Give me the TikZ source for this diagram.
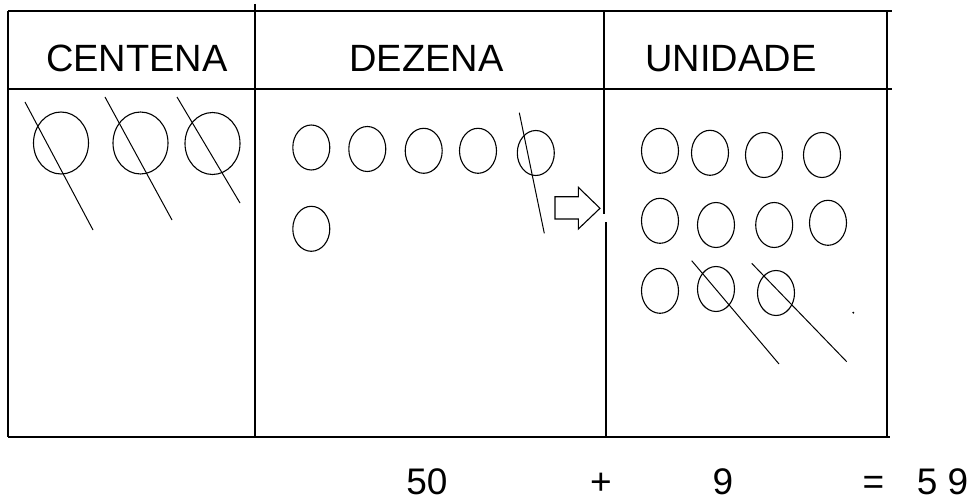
\documentclass[tikz,border=0pt]{standalone}
\usepackage{fontspec}
\setmainfont{Liberation Sans}
\usepackage{tikz}
\usetikzlibrary{shapes.geometric}
\tikzset{
  frame/.style={draw=black,line width=1.6pt},
  header/.style={
    anchor=base,inner sep=0pt,
    font=\fontsize{38}{40}\selectfont
  },
  bead/.style={
    draw=black,ellipse,line width=1.1pt,inner sep=0pt,
    minimum width=37pt,minimum height=45pt
  },
  bigbead/.style={bead,minimum width=55pt,minimum height=62pt},
  cross/.style={draw=black,line width=1pt},
  sumtext/.style={
    anchor=base,inner sep=0pt,
    font=\fontsize{37}{38}\selectfont
  },
  movearrow/.style={draw=black,line width=1.1pt,line join=miter}
}
\begin{document}
\begin{tikzpicture}[x=1pt,y=-1pt]
\useasboundingbox (0,0) rectangle (972,500);

\draw[frame] (8,11) -- (892,11);
\draw[frame] (8,89) -- (892,89);
\draw[frame] (8,437) -- (890,437);
\draw[frame] (8,11) -- (8,437);
\draw[frame] (887,11) -- (887,437);
\draw[frame] (255,4) -- (255,437);
\draw[frame] (604,11) -- (604,214);
\draw[frame] (606,222) -- (606,437);

\node[header] (centena) at (137,72) {CENTENA};
\node[header] (dezena) at (426.5,72) {DEZENA};
\node[header] (unidade) at (731,72) {UNIDADE};

\node[bigbead] (c1) at (61,143) {};
\node[bigbead] (c2) at (140.5,143) {};
\node[bigbead] (c3) at (212.5,143.5) {};
\draw[cross] (25,102) -- (93,230);
\draw[cross] (105,97) -- (172,220);
\draw[cross] (177,97) -- (240,203);

\node[bead] (d1) at (311.3,147.5) {};
\node[bead] (d2) at (367.3,149) {};
\node[bead] (d3) at (423.7,150.8) {};
\node[bead] (d4) at (478,150.8) {};
\node[bead] (d5) at (535.8,153) {};
\node[bead] (d6) at (311.3,228.8) {};
\draw[cross] (519.3,112.7) -- (544.3,233.3);

\draw[movearrow] (555,196.7) -- (578.3,196.7) -- (578.3,187.3)
  -- (600,208.3) -- (578.3,229) -- (578.3,219) -- (555,219) -- cycle;

\node[bead] (u1) at (660,150.8) {};
\node[bead] (u2) at (710,152.8) {};
\node[bead] (u3) at (764,155) {};
\node[bead] (u4) at (822,155) {};
\node[bead] (u5) at (660,220.8) {};
\node[bead] (u6) at (716,225) {};
\node[bead] (u7) at (774.2,225) {};
\node[bead] (u8) at (828,222.8) {};
\node[bead] (u9) at (660,290.8) {};
\node[bead] (u10) at (716,289) {};
\node[bead] (u11) at (776,293) {};
\draw[cross] (691.7,260.7) -- (779,364);
\draw[cross] (751.7,263.3) -- (846.7,361.7);
\fill[black] (853.3,312.7) circle (1.1);

\node[sumtext] (tens) at (427,494) {50};
\node[sumtext] (plus) at (601,494) {+};
\node[sumtext] (ones) at (723,494) {9};
\node[sumtext] (equals) at (873.5,494) {=};
\node[sumtext] (total) at (942.5,494) {5 9};
\end{tikzpicture}
\end{document}
